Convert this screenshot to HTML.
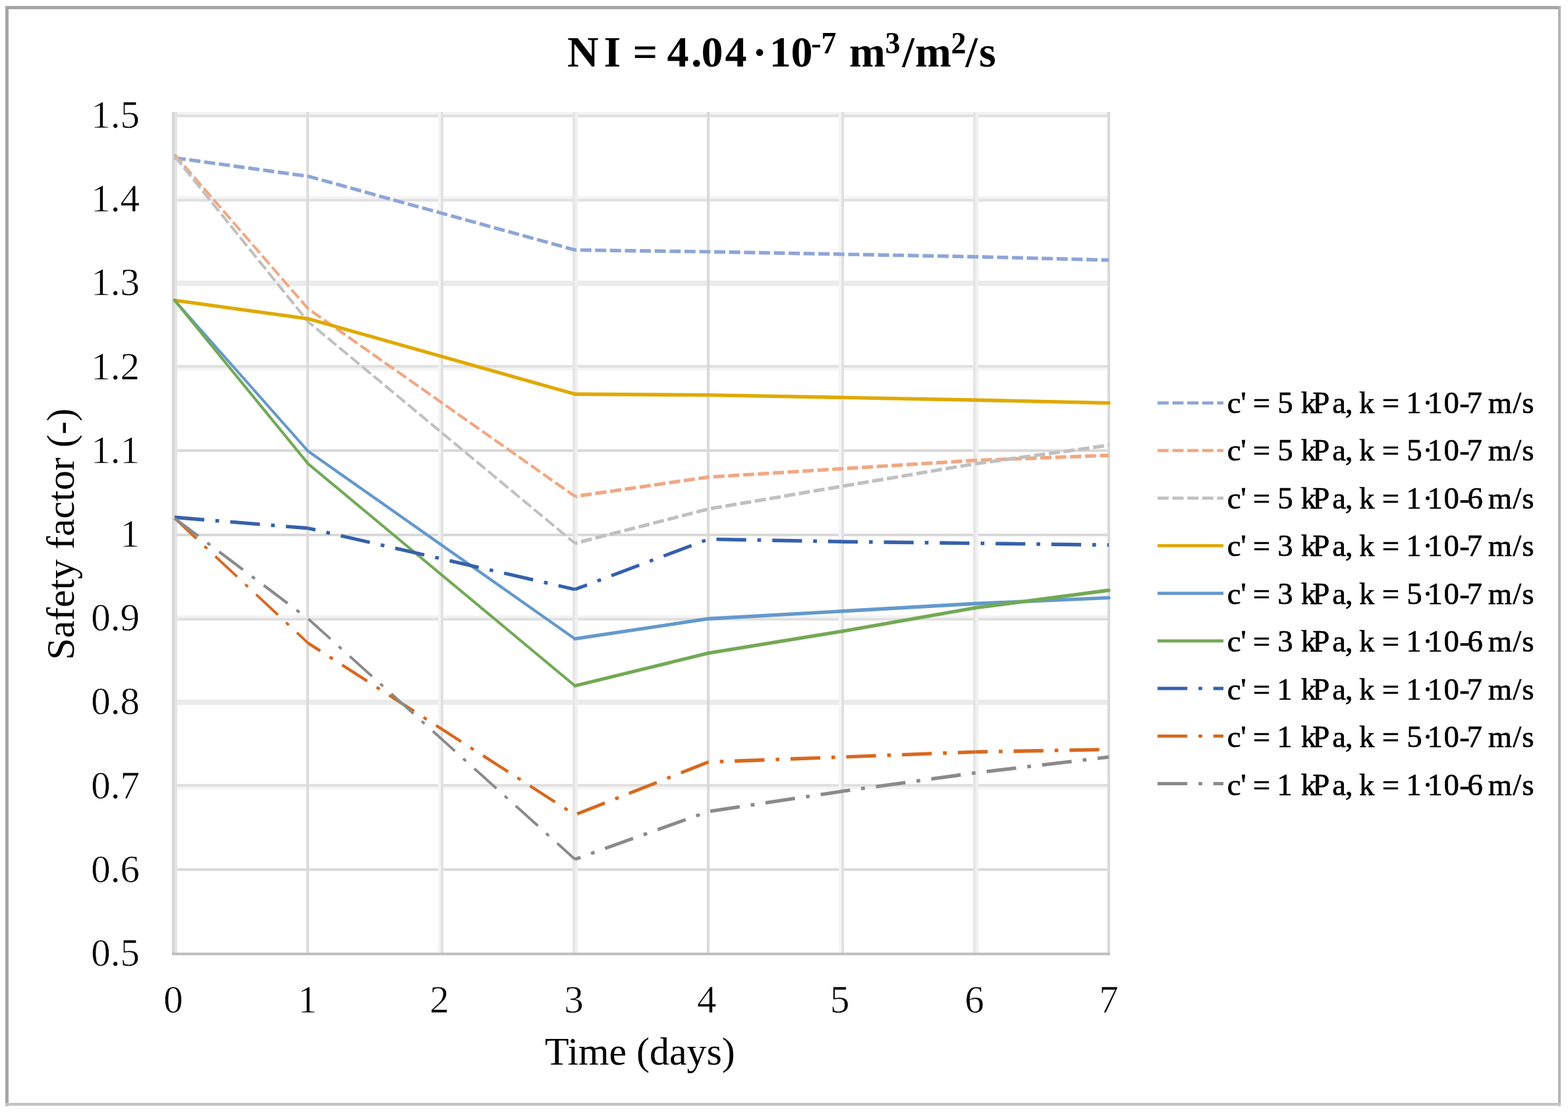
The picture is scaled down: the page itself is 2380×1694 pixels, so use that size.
<!DOCTYPE html>
<html><head><meta charset="utf-8"><title>Safety factor chart</title>
<style>html,body{margin:0;padding:0;background:#fff;overflow:hidden;width:2380px;height:1694px}svg{display:block}text{font-family:"Liberation Serif","Times New Roman",serif;fill:#000}text.b{font-weight:bold}text.lab{stroke:#fff;stroke-width:0.60px}text.leg{stroke:#000;stroke-width:0.70px}</style>
</head><body>
<svg width="2380" height="1694" viewBox="0 0 2380 1694">
<rect x="0" y="0" width="2380" height="1694" fill="#fff"/>
<rect x="8" y="9" width="5" height="1670" fill="#a6a6a6"/>
<rect x="8" y="9" width="2361" height="5" fill="#a6a6a6"/>
<rect x="2365" y="9" width="4" height="1670" fill="#b4b4b4"/>
<rect x="8" y="1674" width="2361" height="4.5" fill="#c4c4c4"/>
<rect x="261" y="170" width="1424" height="4" fill="#f3f3f3"/>
<rect x="261" y="174" width="1424" height="4" fill="#e0e0e0"/>
<rect x="261" y="298" width="1424" height="4" fill="#f3f3f3"/>
<rect x="261" y="302" width="1424" height="4" fill="#e1e1e1"/>
<rect x="261" y="426" width="1424" height="8" fill="#ebebeb"/>
<rect x="261" y="554" width="1424" height="4" fill="#e0e0e0"/>
<rect x="261" y="558" width="1424" height="4" fill="#f3f3f3"/>
<rect x="261" y="682" width="1424" height="4" fill="#d9d9d9"/>
<rect x="261" y="810" width="1424" height="4" fill="#d9d9d9"/>
<rect x="261" y="934" width="1424" height="4" fill="#f3f3f3"/>
<rect x="261" y="938" width="1424" height="4" fill="#e0e0e0"/>
<rect x="261" y="1062" width="1424" height="8" fill="#ebebeb"/>
<rect x="261" y="1190" width="1424" height="4" fill="#e0e0e0"/>
<rect x="261" y="1194" width="1424" height="4" fill="#f3f3f3"/>
<rect x="261" y="1318" width="1424" height="4" fill="#d9d9d9"/>
<rect x="261" y="170" width="4" height="1276" fill="#d6d6d6"/>
<rect x="265" y="170" width="4" height="1276" fill="#e4e4e4"/>
<rect x="465" y="170" width="4" height="1276" fill="#dcdcdc"/>
<rect x="665" y="170" width="4" height="1276" fill="#f4f4f4"/>
<rect x="669" y="170" width="4" height="1276" fill="#e1e1e1"/>
<rect x="869" y="170" width="4" height="1276" fill="#e6e6e6"/>
<rect x="873" y="170" width="4" height="1276" fill="#efefef"/>
<rect x="1073" y="170" width="4" height="1276" fill="#d9d9d9"/>
<rect x="1273" y="170" width="4" height="1276" fill="#f5f5f5"/>
<rect x="1277" y="170" width="4" height="1276" fill="#e0e0e0"/>
<rect x="1477" y="170" width="4" height="1276" fill="#e6e6e6"/>
<rect x="1481" y="170" width="4" height="1276" fill="#f0f0f0"/>
<rect x="1681" y="170" width="4" height="1276" fill="#d9d9d9"/>
<rect x="261" y="1446" width="1424" height="4" fill="#bfbfbf"/>
<g fill="none" stroke="#8ea5d8" stroke-linecap="butt" opacity="1.00">
<line x1="265.0" y1="239.6" x2="467.6" y2="267.6" stroke-width="5.35" stroke-dasharray="16.95 5.65" stroke-dashoffset="0.00"/>
<line x1="467.6" y1="267.6" x2="872.7" y2="379.5" stroke-width="5.20" stroke-dasharray="16.95 5.65" stroke-dashoffset="204.49"/>
<line x1="872.7" y1="379.5" x2="1075.3" y2="382.1" stroke-width="5.40" stroke-dasharray="16.95 5.65" stroke-dashoffset="624.81"/>
<line x1="1075.3" y1="382.1" x2="1277.8" y2="385.9" stroke-width="5.40" stroke-dasharray="16.95 5.65" stroke-dashoffset="827.40"/>
<line x1="1277.8" y1="385.9" x2="1480.4" y2="389.7" stroke-width="5.40" stroke-dasharray="16.95 5.65" stroke-dashoffset="1030.00"/>
<line x1="1480.4" y1="389.7" x2="1683.0" y2="394.8" stroke-width="5.40" stroke-dasharray="16.95 5.65" stroke-dashoffset="1232.61"/>
</g>
<g fill="none" stroke="#f1a783" stroke-linecap="butt" opacity="1.00">
<line x1="265.0" y1="234.5" x2="467.6" y2="468.6" stroke-width="4.08" stroke-dasharray="16.95 5.65" stroke-dashoffset="0.00"/>
<line x1="467.6" y1="468.6" x2="872.7" y2="753.5" stroke-width="4.42" stroke-dasharray="16.95 5.65" stroke-dashoffset="309.54"/>
<line x1="872.7" y1="753.5" x2="1075.3" y2="724.2" stroke-width="5.34" stroke-dasharray="16.95 5.65" stroke-dashoffset="804.84"/>
<line x1="1075.3" y1="724.2" x2="1277.8" y2="711.5" stroke-width="5.39" stroke-dasharray="16.95 5.65" stroke-dashoffset="1009.51"/>
<line x1="1277.8" y1="711.5" x2="1480.4" y2="698.8" stroke-width="5.39" stroke-dasharray="16.95 5.65" stroke-dashoffset="1212.48"/>
<line x1="1480.4" y1="698.8" x2="1683.0" y2="691.2" stroke-width="5.40" stroke-dasharray="16.95 5.65" stroke-dashoffset="1415.45"/>
</g>
<g fill="none" stroke="#c0c0c0" stroke-linecap="butt" opacity="1.00">
<line x1="265.0" y1="237.1" x2="467.6" y2="488.3" stroke-width="4.20" stroke-dasharray="16.95 5.65" stroke-dashoffset="0.00"/>
<line x1="467.6" y1="488.3" x2="872.7" y2="824.7" stroke-width="4.15" stroke-dasharray="16.95 5.65" stroke-dashoffset="322.72"/>
<line x1="872.7" y1="824.7" x2="1075.3" y2="772.6" stroke-width="5.23" stroke-dasharray="16.95 5.65" stroke-dashoffset="849.34"/>
<line x1="1075.3" y1="772.6" x2="1277.8" y2="738.2" stroke-width="5.32" stroke-dasharray="16.95 5.65" stroke-dashoffset="1058.52"/>
<line x1="1277.8" y1="738.2" x2="1480.4" y2="703.9" stroke-width="5.32" stroke-dasharray="16.95 5.65" stroke-dashoffset="1263.98"/>
<line x1="1480.4" y1="703.9" x2="1683.0" y2="675.9" stroke-width="5.35" stroke-dasharray="16.95 5.65" stroke-dashoffset="1469.44"/>
</g>
<g fill="none" stroke="#e0a900" stroke-linecap="round" opacity="1.00">
<line x1="265.0" y1="455.8" x2="467.6" y2="483.8" stroke-width="5.35" />
<line x1="467.6" y1="483.8" x2="872.7" y2="598.3" stroke-width="5.20" />
<line x1="872.7" y1="598.3" x2="1075.3" y2="599.6" stroke-width="5.40" />
<line x1="1075.3" y1="599.6" x2="1277.8" y2="603.4" stroke-width="5.40" />
<line x1="1277.8" y1="603.4" x2="1480.4" y2="607.2" stroke-width="5.40" />
<line x1="1480.4" y1="607.2" x2="1683.0" y2="611.7" stroke-width="5.40" />
</g>
<g fill="none" stroke="#6399cc" stroke-linecap="round" opacity="1.00">
<line x1="265.0" y1="455.8" x2="467.6" y2="684.8" stroke-width="4.04" />
<line x1="467.6" y1="684.8" x2="872.7" y2="969.7" stroke-width="4.42" />
<line x1="872.7" y1="969.7" x2="1075.3" y2="939.2" stroke-width="5.34" />
<line x1="1075.3" y1="939.2" x2="1277.8" y2="927.8" stroke-width="5.39" />
<line x1="1277.8" y1="927.8" x2="1480.4" y2="916.3" stroke-width="5.39" />
<line x1="1480.4" y1="916.3" x2="1683.0" y2="907.4" stroke-width="5.39" />
</g>
<g fill="none" stroke="#72a955" stroke-linecap="round" opacity="1.00">
<line x1="265.0" y1="455.8" x2="467.6" y2="703.9" stroke-width="4.18" />
<line x1="467.6" y1="703.9" x2="872.7" y2="1041.0" stroke-width="4.15" />
<line x1="872.7" y1="1041.0" x2="1075.3" y2="991.4" stroke-width="5.25" />
<line x1="1075.3" y1="991.4" x2="1277.8" y2="958.3" stroke-width="5.33" />
<line x1="1277.8" y1="958.3" x2="1480.4" y2="922.7" stroke-width="5.32" />
<line x1="1480.4" y1="922.7" x2="1683.0" y2="896.0" stroke-width="5.35" />
</g>
<g fill="none" stroke="#3660ab" stroke-linecap="butt" opacity="1.00">
<line x1="265.0" y1="785.3" x2="467.6" y2="801.8" stroke-width="5.38" stroke-dasharray="45.2 16.95 5.65 16.95" stroke-dashoffset="0.00"/>
<line x1="467.6" y1="801.8" x2="872.7" y2="894.7" stroke-width="5.26" stroke-dasharray="45.2 16.95 5.65 16.95" stroke-dashoffset="203.24"/>
<line x1="872.7" y1="894.7" x2="1075.3" y2="818.4" stroke-width="5.05" stroke-dasharray="45.2 16.95 5.65 16.95" stroke-dashoffset="618.89"/>
<line x1="1075.3" y1="818.4" x2="1277.8" y2="822.2" stroke-width="5.40" stroke-dasharray="45.2 16.95 5.65 16.95" stroke-dashoffset="835.36"/>
<line x1="1277.8" y1="822.2" x2="1480.4" y2="824.7" stroke-width="5.40" stroke-dasharray="45.2 16.95 5.65 16.95" stroke-dashoffset="1037.96"/>
<line x1="1480.4" y1="824.7" x2="1683.0" y2="827.3" stroke-width="5.40" stroke-dasharray="45.2 16.95 5.65 16.95" stroke-dashoffset="1240.55"/>
</g>
<g fill="none" stroke="#d7691f" stroke-linecap="butt" opacity="1.00">
<line x1="265.0" y1="786.6" x2="467.6" y2="976.1" stroke-width="3.94" stroke-dasharray="45.2 16.95 5.65 16.95" stroke-dashoffset="0.00"/>
<line x1="467.6" y1="976.1" x2="872.7" y2="1236.8" stroke-width="4.54" stroke-dasharray="45.2 16.95 5.65 16.95" stroke-dashoffset="277.41"/>
<line x1="872.7" y1="1236.8" x2="1075.3" y2="1156.7" stroke-width="5.02" stroke-dasharray="45.2 16.95 5.65 16.95" stroke-dashoffset="759.21"/>
<line x1="1075.3" y1="1156.7" x2="1277.8" y2="1149.1" stroke-width="5.40" stroke-dasharray="45.2 16.95 5.65 16.95" stroke-dashoffset="977.06"/>
<line x1="1277.8" y1="1149.1" x2="1480.4" y2="1141.4" stroke-width="5.40" stroke-dasharray="45.2 16.95 5.65 16.95" stroke-dashoffset="1179.77"/>
<line x1="1480.4" y1="1141.4" x2="1683.0" y2="1137.6" stroke-width="5.40" stroke-dasharray="45.2 16.95 5.65 16.95" stroke-dashoffset="1382.48"/>
</g>
<g fill="none" stroke="#8a8a8a" stroke-linecap="butt" opacity="1.00">
<line x1="265.0" y1="786.6" x2="467.6" y2="939.2" stroke-width="4.31" stroke-dasharray="45.2 16.95 5.65 16.95" stroke-dashoffset="0.00"/>
<line x1="467.6" y1="939.2" x2="872.7" y2="1304.3" stroke-width="4.01" stroke-dasharray="45.2 16.95 5.65 16.95" stroke-dashoffset="253.64"/>
<line x1="872.7" y1="1304.3" x2="1075.3" y2="1231.8" stroke-width="5.08" stroke-dasharray="45.2 16.95 5.65 16.95" stroke-dashoffset="798.99"/>
<line x1="1075.3" y1="1231.8" x2="1277.8" y2="1201.2" stroke-width="5.34" stroke-dasharray="45.2 16.95 5.65 16.95" stroke-dashoffset="1014.15"/>
<line x1="1277.8" y1="1201.2" x2="1480.4" y2="1173.2" stroke-width="5.35" stroke-dasharray="45.2 16.95 5.65 16.95" stroke-dashoffset="1219.01"/>
<line x1="1480.4" y1="1173.2" x2="1683.0" y2="1149.1" stroke-width="5.36" stroke-dasharray="45.2 16.95 5.65 16.95" stroke-dashoffset="1423.50"/>
</g>
<text class="lab" x="212.0" y="1466.0" font-size="59" text-anchor="end">0.5</text>
<text class="lab" x="212.0" y="1338.8" font-size="59" text-anchor="end">0.6</text>
<text class="lab" x="212.0" y="1211.6" font-size="59" text-anchor="end">0.7</text>
<text class="lab" x="212.0" y="1084.4" font-size="59" text-anchor="end">0.8</text>
<text class="lab" x="212.0" y="957.2" font-size="59" text-anchor="end">0.9</text>
<text class="lab" x="212.0" y="830.0" font-size="59" text-anchor="end">1</text>
<text class="lab" x="212.0" y="702.8" font-size="59" text-anchor="end">1.1</text>
<text class="lab" x="212.0" y="575.6" font-size="59" text-anchor="end">1.2</text>
<text class="lab" x="212.0" y="448.4" font-size="59" text-anchor="end">1.3</text>
<text class="lab" x="212.0" y="321.2" font-size="59" text-anchor="end">1.4</text>
<text class="lab" x="212.0" y="194.0" font-size="59" text-anchor="end">1.5</text>
<text class="lab" x="262.9" y="1537.0" font-size="59" text-anchor="middle">0</text>
<text class="lab" x="466.8" y="1537.0" font-size="59" text-anchor="middle">1</text>
<text class="lab" x="666.9" y="1537.0" font-size="59" text-anchor="middle">2</text>
<text class="lab" x="871.1" y="1537.0" font-size="59" text-anchor="middle">3</text>
<text class="lab" x="1072.8" y="1537.0" font-size="59" text-anchor="middle">4</text>
<text class="lab" x="1274.8" y="1537.0" font-size="59" text-anchor="middle">5</text>
<text class="lab" x="1479.1" y="1537.0" font-size="59" text-anchor="middle">6</text>
<text class="lab" x="1683.0" y="1537.0" font-size="59" text-anchor="middle">7</text>
<text x="971.3" y="1616.3" font-size="59" text-anchor="middle" textLength="288.7" lengthAdjust="spacingAndGlyphs">Time (days)</text>
<text transform="translate(111.5,810.8) rotate(-90)" x="0" y="0" font-size="59" text-anchor="middle" textLength="382.1" lengthAdjust="spacingAndGlyphs">Safety factor (-)</text>
<text class="b" y="101.0" font-size="66"><tspan x="860.9 916.5 924.5 960.4 968.4 1012.5 1049.0 1064.6 1100.4 1108.4 1142.0 1150.0 1167.8 1200.4">NI = 4.04 · 10</tspan><tspan x="1231.2 1246.5" y="81.0" font-size="46">-7</tspan><tspan x="0.0 1289.0" y="101.0"> m</tspan><tspan x="1343.5" y="81.0" font-size="46">3</tspan><tspan x="1369.5 1389.0" y="101.0">/m</tspan><tspan x="1443.4" y="81.0" font-size="46">2</tspan><tspan x="1465.5 1486.1" y="101.0">/s</tspan></text>
<line x1="1757" y1="611.6" x2="1857" y2="611.6" stroke="#8ea5d8" stroke-width="4.80" stroke-dasharray="16.95 5.65"/>
<text class="leg" x="1862.8 1883.3 1891.3 1901.8 1909.8 1939.3 1947.3 1974.7 1992.3 2022.3 2041.8 2049.8 2062.9 2070.9 2097.8 2105.8 2134.3 2159.3 2166.4 2191.4 2215.3 2226.4 2234.4 2258.8 2296.3 2310.3" y="626.9" font-size="46.6">c' = 5 kPa, k = 1·10-7 m/s</text>
<line x1="1757" y1="683.8" x2="1857" y2="683.8" stroke="#f1a783" stroke-width="4.80" stroke-dasharray="16.95 5.65"/>
<text class="leg" x="1862.8 1883.3 1891.3 1901.8 1909.8 1939.3 1947.3 1974.7 1992.3 2022.3 2041.8 2049.8 2062.9 2070.9 2097.8 2105.8 2135.3 2159.3 2166.4 2191.4 2215.3 2226.4 2234.4 2258.8 2296.3 2310.3" y="699.4" font-size="46.6">c' = 5 kPa, k = 5·10-7 m/s</text>
<line x1="1757" y1="756.1" x2="1857" y2="756.1" stroke="#c0c0c0" stroke-width="4.80" stroke-dasharray="16.95 5.65"/>
<text class="leg" x="1862.8 1883.3 1891.3 1901.8 1909.8 1939.3 1947.3 1974.7 1992.3 2022.3 2041.8 2049.8 2062.9 2070.9 2097.8 2105.8 2134.3 2159.3 2166.4 2191.4 2215.3 2227.4 2235.4 2258.8 2296.3 2310.3" y="771.9" font-size="46.6">c' = 5 kPa, k = 1·10-6 m/s</text>
<line x1="1757" y1="828.3" x2="1857" y2="828.3" stroke="#e0a900" stroke-width="4.80" />
<text class="leg" x="1862.8 1883.3 1891.3 1901.8 1909.8 1939.3 1947.3 1974.7 1992.3 2022.3 2041.8 2049.8 2062.9 2070.9 2097.8 2105.8 2134.3 2159.3 2166.4 2191.4 2215.3 2226.4 2234.4 2258.8 2296.3 2310.3" y="844.4" font-size="46.6">c' = 3 kPa, k = 1·10-7 m/s</text>
<line x1="1757" y1="900.6" x2="1857" y2="900.6" stroke="#6399cc" stroke-width="4.80" />
<text class="leg" x="1862.8 1883.3 1891.3 1901.8 1909.8 1939.3 1947.3 1974.7 1992.3 2022.3 2041.8 2049.8 2062.9 2070.9 2097.8 2105.8 2135.3 2159.3 2166.4 2191.4 2215.3 2226.4 2234.4 2258.8 2296.3 2310.3" y="916.9" font-size="46.6">c' = 3 kPa, k = 5·10-7 m/s</text>
<line x1="1757" y1="972.8" x2="1857" y2="972.8" stroke="#72a955" stroke-width="4.80" />
<text class="leg" x="1862.8 1883.3 1891.3 1901.8 1909.8 1939.3 1947.3 1974.7 1992.3 2022.3 2041.8 2049.8 2062.9 2070.9 2097.8 2105.8 2134.3 2159.3 2166.4 2191.4 2215.3 2227.4 2235.4 2258.8 2296.3 2310.3" y="989.4" font-size="46.6">c' = 3 kPa, k = 1·10-6 m/s</text>
<line x1="1757" y1="1045.0" x2="1857" y2="1045.0" stroke="#3660ab" stroke-width="4.80" stroke-dasharray="45.2 16.95 5.65 16.95"/>
<text class="leg" x="1862.8 1883.3 1891.3 1901.8 1909.8 1938.3 1946.3 1974.7 1992.3 2022.3 2041.8 2049.8 2062.9 2070.9 2097.8 2105.8 2134.3 2159.3 2166.4 2191.4 2215.3 2226.4 2234.4 2258.8 2296.3 2310.3" y="1061.9" font-size="46.6">c' = 1 kPa, k = 1·10-7 m/s</text>
<line x1="1757" y1="1117.3" x2="1857" y2="1117.3" stroke="#d7691f" stroke-width="4.80" stroke-dasharray="45.2 16.95 5.65 16.95"/>
<text class="leg" x="1862.8 1883.3 1891.3 1901.8 1909.8 1938.3 1946.3 1974.7 1992.3 2022.3 2041.8 2049.8 2062.9 2070.9 2097.8 2105.8 2135.3 2159.3 2166.4 2191.4 2215.3 2226.4 2234.4 2258.8 2296.3 2310.3" y="1134.4" font-size="46.6">c' = 1 kPa, k = 5·10-7 m/s</text>
<line x1="1757" y1="1189.5" x2="1857" y2="1189.5" stroke="#8a8a8a" stroke-width="4.80" stroke-dasharray="45.2 16.95 5.65 16.95"/>
<text class="leg" x="1862.8 1883.3 1891.3 1901.8 1909.8 1938.3 1946.3 1974.7 1992.3 2022.3 2041.8 2049.8 2062.9 2070.9 2097.8 2105.8 2134.3 2159.3 2166.4 2191.4 2215.3 2227.4 2235.4 2258.8 2296.3 2310.3" y="1206.9" font-size="46.6">c' = 1 kPa, k = 1·10-6 m/s</text>
</svg>
</body></html>
